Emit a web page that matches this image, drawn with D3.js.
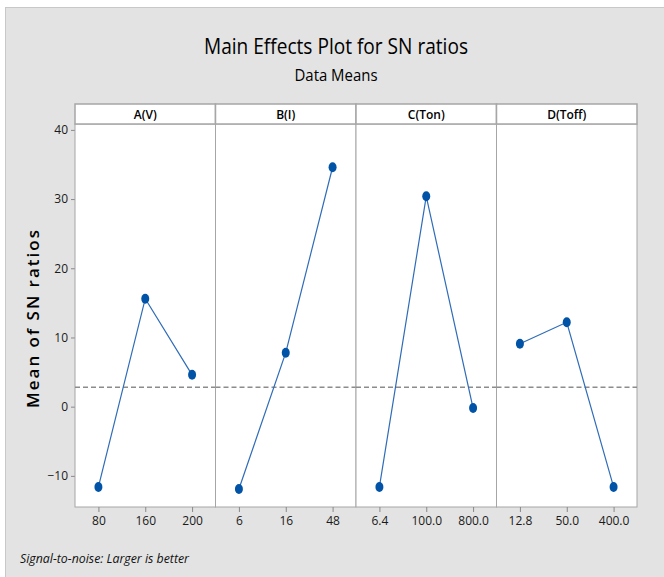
<!DOCTYPE html>
<html>
<meta charset="utf-8">
<script src="https://d3js.org/d3.v7.min.js"></script>
<title>Main Effects Plot for SN ratios</title>
<style>
  body { margin: 0; background: #fff; }
  text { font-family: "Open Sans", "DejaVu Sans", sans-serif; fill: #111; }
</style>
<body>
<div id="chart"></div>
<script>
// factors and their levels
var factors = ["A(V)", "B(I)", "C(Ton)", "D(Toff)"];
var levelsA = ["80", "160", "200"];
var levelsB = ["6", "16", "48"];
var levelsC = ["6.4", "100.0", "800.0"];
var levelsD = ["12.8", "50.0", "400.0"];

// mean of SN ratios for each level
var snA = [-11.6, 15.6, 4.6];
var snB = [-11.9, 7.8, 34.6];
var snC = [-11.6, 30.4, -0.2];
var snD = [9.1, 12.2, -11.6];

var grandMean = 2.8;
var yTicks = [-10, 0, 10, 20, 30, 40];

var levels = [levelsA, levelsB, levelsC, levelsD];
var series = [snA, snB, snC, snD];

var W = 664, H = 577;
var left = 75, right = 637, stripTop = 104, stripH = 20, bottom = 507;
var panelW = (right - left) / factors.length;

var svg = d3.select("#chart").append("svg")
    .attr("width", W)
    .attr("height", H);

// gray background frame
svg.append("rect")
    .attr("x", 5.5).attr("y", 7.5)
    .attr("width", W).attr("height", H)
    .style("fill", "#e3e3e3")
    .style("stroke", "#c8c8c8");

// titles
svg.append("text")
    .attr("x", 336).attr("y", 54)
    .attr("text-anchor", "middle")
    .attr("textLength", 264).attr("lengthAdjust", "spacingAndGlyphs")
    .style("font-size", "22px")
    .style("fill", "#000")
    .text("Main Effects Plot for SN ratios");

svg.append("text")
    .attr("x", 336).attr("y", 81)
    .attr("text-anchor", "middle")
    .attr("textLength", 83).attr("lengthAdjust", "spacingAndGlyphs")
    .style("font-size", "16px")
    .style("fill", "#000")
    .text("Data Means");

var y = d3.scaleLinear()
    .domain([-14.5, 40.85])
    .range([bottom, stripTop + stripH]);

// y axis
var yAxis = svg.append("g")
    .attr("transform", "translate(" + left + ",0)")
    .call(d3.axisLeft(y).tickValues(yTicks).tickSize(4).tickPadding(3));
yAxis.select(".domain").remove();
yAxis.selectAll("line").style("stroke", "#888");
yAxis.selectAll("text")
    .style("font-size", "12px")
    .style("font-family", "'Open Sans', sans-serif")
    .style("fill", "#1a1a1a");

svg.append("text")
    .attr("transform", "translate(39," + 318 + ") rotate(-90)")
    .attr("text-anchor", "middle")
    .style("font-size", "17px")
    .style("font-weight", "600")
    .style("letter-spacing", "2px")
    .style("fill", "#000")
    .text("Mean of SN ratios");

factors.forEach(function(f, i) {
  var x0 = left + i * panelW;
  var g = svg.append("g").attr("transform", "translate(" + x0 + ",0)");

  // panel body
  g.append("rect")
      .attr("x", 0).attr("y", stripTop + stripH)
      .attr("width", panelW).attr("height", bottom - stripTop - stripH)
      .style("fill", "#fff")
      .style("stroke", "#a6a6a6");

  // strip header
  g.append("rect")
      .attr("x", 0).attr("y", stripTop)
      .attr("width", panelW).attr("height", stripH)
      .style("fill", "#fff")
      .style("stroke", "#a6a6a6")
      .style("stroke-width", 1.5);

  g.append("text")
      .attr("x", panelW / 2).attr("y", stripTop + 15)
      .attr("text-anchor", "middle")
      .style("font-size", "12px")
      .style("font-weight", "600")
      .style("fill", "#000")
      .text(f);

  var x = d3.scalePoint()
      .domain(levels[i])
      .range([0, panelW])
      .padding(0.5);

  var xAxis = g.append("g")
      .attr("transform", "translate(0," + bottom + ")")
      .call(d3.axisBottom(x).tickSize(5).tickPadding(4));
  xAxis.select(".domain").remove();
  xAxis.selectAll("line").style("stroke", "#888");
  xAxis.selectAll("text")
      .style("font-size", "12px")
      .style("font-family", "'Open Sans', sans-serif")
      .style("fill", "#1a1a1a");

  // reference line at grand mean
  g.append("line")
      .attr("x1", 0).attr("x2", panelW)
      .attr("y1", y(grandMean)).attr("y2", y(grandMean))
      .style("stroke", "#8c8c8c")
      .style("stroke-width", 1.5)
      .style("stroke-dasharray", "5,3");

  var pts = levels[i].map(function(l, j) { return {lev: l, v: series[i][j]}; });

  g.append("path")
      .datum(pts)
      .attr("d", d3.line()
          .x(function(d) { return x(d.lev); })
          .y(function(d) { return y(d.v); }))
      .style("fill", "none")
      .style("stroke", "#2f6cb8")
      .style("stroke-width", 1.2);

  g.selectAll("ellipse")
      .data(pts)
      .enter().append("ellipse")
      .attr("cx", function(d) { return x(d.lev); })
      .attr("cy", function(d) { return y(d.v); })
      .attr("rx", 4)
      .attr("ry", 5)
      .style("fill", "#0053a6");
});

svg.append("text")
    .attr("x", 20).attr("y", 563)
    .style("font-size", "12px")
    .style("font-style", "italic")
    .attr("textLength", 169).attr("lengthAdjust", "spacingAndGlyphs")
    .text("Signal-to-noise: Larger is better");
</script>
</body>
</html>
